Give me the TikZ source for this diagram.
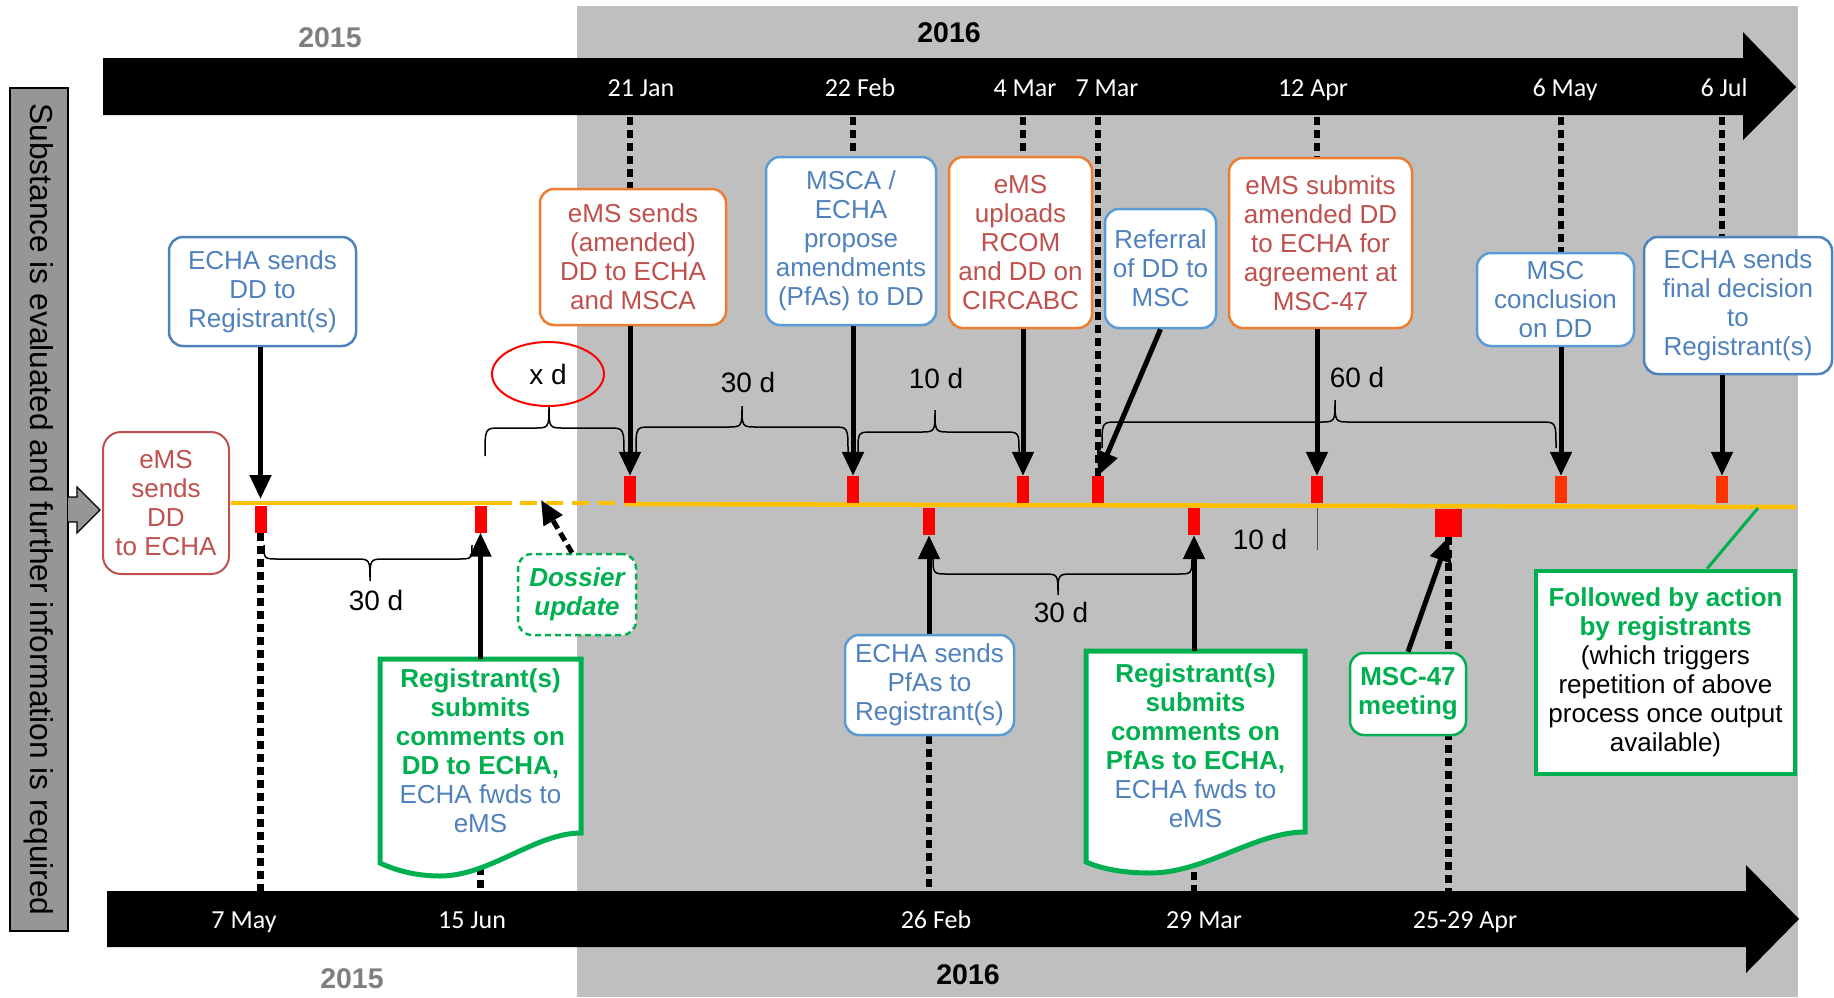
\documentclass[tikz,border=0pt]{standalone}
\usepackage{fontspec}
\setmainfont{Liberation Sans}
\newfontfamily\datefont{Carlito}
\usepackage{tikz}
\usetikzlibrary{shapes.geometric, arrows.meta, backgrounds}

\definecolor{txtred}{HTML}{C0504D}
\definecolor{bdorange}{HTML}{ED7D31}
\definecolor{txtblue}{HTML}{4F81BD}
\definecolor{bdblue}{HTML}{5B9BD5}
\definecolor{ggreen}{HTML}{00B050}
\definecolor{bggray}{HTML}{BFBFBF}
\definecolor{bargray}{HTML}{969696}
\definecolor{yeargray}{HTML}{7F7F7F}
\definecolor{tlorange}{HTML}{FFC000}
\definecolor{mkred}{HTML}{FF0000}
\definecolor{mkorange}{HTML}{FF3300}

\newcommand{\boxfont}{\fontsize{26}{29}\selectfont}
\newcommand{\greenbold}[1]{{\color{ggreen}\bfseries #1}}
\newcommand{\curly}[6]{\draw [bracket] (#1,#4) .. controls (#1,#5) .. (#1+15,#5) -- (#3-15,#5) .. controls (#3,#5) .. (#3,#6) .. controls (#3,#5) .. (#3+15,#5) -- (#2-15,#5) .. controls (#2,#5) .. (#2,#4);}

\tikzstyle{basebox} = [rectangle, rounded corners=14pt, fill=white, align=center, inner sep=3pt, font=\boxfont, line width=2.5pt]
\tikzstyle{bluebox} = [basebox, draw=bdblue, text=txtblue]
\tikzstyle{orangebox} = [basebox, draw=bdorange, text=txtred]
\tikzstyle{redbox} = [basebox, draw=txtred, text=txtred, line width=2pt, rounded corners=18pt]
\tikzstyle{greenbox} = [basebox, draw=ggreen, text=ggreen, font=\boxfont\bfseries]
\tikzstyle{dossierbox} = [greenbox, font=\boxfont\bfseries\itshape, dash pattern=on 6pt off 4pt]
\tikzstyle{notebox} = [rectangle, draw=ggreen, line width=4.5pt, fill=white, align=center, font=\boxfont, inner sep=3pt]
\tikzstyle{docshape} = [draw=ggreen, line width=5pt, fill=white]
\tikzstyle{doctext} = [align=center, font=\boxfont, text=txtblue]
\tikzstyle{arrow} = [line width=5pt, -{Triangle[length=24pt, width=21pt]}]
\tikzstyle{dotline} = [line width=6.5pt, dash pattern=on 8pt off 5pt]
\tikzstyle{daymark} = [rectangle, fill=mkred, minimum width=12pt, minimum height=27pt, inner sep=0pt]
\tikzstyle{tline} = [tlorange, line width=4.5pt]
\tikzstyle{datelbl} = [text=white, anchor=base, font=\datefont\fontsize{26}{28}\selectfont]
\tikzstyle{yearlbl} = [anchor=base, font=\fontsize{28.5}{30}\selectfont\bfseries]
\tikzstyle{daylbl} = [font=\fontsize{28}{30}\selectfont]
\tikzstyle{bracket} = [line width=1.5pt]

\begin{document}
\begin{tikzpicture}[x=1pt, y=-1pt]
\useasboundingbox (0,0) rectangle (1834,997);

\coordinate (topedge) at (0,117);
\coordinate (botedge) at (0,891);
\coordinate (linetop) at (0,499);
\coordinate (dossierpt) at (541,500);
\coordinate (tlend) at (1758,508);

\node (y15a) [yearlbl, text=yeargray] at (330,47) {2015};
\node (y16a) [yearlbl] at (949,42) {2016};
\node (y15b) [yearlbl, text=yeargray] at (352,988) {2015};
\node (y16b) [yearlbl] at (968,984) {2016};

\node (premise) [rectangle, draw, line width=1.2pt, fill=bargray, minimum width=843pt, minimum height=58pt, inner sep=0pt, rotate=-90, font=\fontsize{31.7}{34}\selectfont] at (39,509.5) {Substance is evaluated and further information is required};
\draw [fill=bargray, line width=1.2pt] (68,497) -- (77,497) -- (77,487) -- (100,510) -- (77,533) -- (77,522) -- (68,522);

\draw [tline] (231,503) -- (512,503);
\draw [tline, dash pattern=on 17pt off 9pt] (520,503) -- (625,503);
\draw [tline] (625,504) -- (1796,507);

\node (jan21) [daymark] at (630,489.5) {};
\node (feb22) [daymark] at (853,489.5) {};
\node (mar4) [daymark] at (1023,489.5) {};
\node (mar7) [daymark] at (1098,489.5) {};
\node (apr12) [daymark] at (1317,489.5) {};
\node (may6) [daymark, fill=mkorange] at (1561,489.5) {};
\node (jul6) [daymark, fill=mkorange] at (1722,489.5) {};
\node (may7) [daymark] at (260.5,519) {};
\node (jun15) [daymark] at (480.5,519) {};
\node (feb26) [daymark] at (929,521.5) {};
\node (mar29) [daymark] at (1194,521.5) {};
\node (apr25) [daymark, minimum width=27pt, minimum height=28pt] at (1448.5,523) {};

\curly{485}{624}{549}{456}{428}{405}
\curly{636}{848}{742}{452}{427}{406}
\curly{858}{1019}{935}{452}{432}{410}
\curly{1102}{1556}{1335}{448}{422}{400}
\curly{264}{472}{370}{545}{559}{581}
\curly{933}{1192}{1058}{556}{574}{595}

\node (xd) [ellipse, draw=red, line width=2pt, minimum width=112pt, minimum height=64pt, daylbl] at (548,374) {x d};
\node (d30a) [daylbl] at (748,382) {30 d};
\node (d10a) [daylbl] at (936,378) {10 d};
\node (d60) [daylbl] at (1357,377) {60 d};
\node (d30b) [daylbl] at (376,600) {30 d};
\node (d30c) [daylbl] at (1061,612) {30 d};
\node (d10b) [daylbl] at (1260,539) {10 d};
\draw [line width=1pt, black!70] ([yshift=-5pt]apr12.south) -- ++(0,42);

\node (ems1) [redbox, minimum width=126pt, minimum height=142pt] at (166,503) {eMS\\sends\\DD\\to ECHA};
\node (echa1) [bluebox, draw=txtblue, minimum width=187pt, minimum height=109pt] at (262.5,291.5) {ECHA sends\\DD to\\Registrant(s)};
\node (ems2) [orangebox, minimum width=186pt, minimum height=136pt] at (633,257) {eMS sends\\(amended)\\DD to ECHA\\and MSCA};
\node (msca) [bluebox, minimum width=170pt, minimum height=168pt] at (851,241) {MSCA /\\ECHA\\propose\\amendments\\(PfAs) to DD};
\node (ems3) [orangebox, minimum width=143pt, minimum height=171pt] at (1020.5,242.5) {eMS\\uploads\\RCOM\\and DD on\\CIRCABC};
\node (refer) [bluebox, minimum width=111pt, minimum height=119pt] at (1160.5,268.5) {Referral\\of DD to\\MSC};
\node (ems4) [orangebox, minimum width=183pt, minimum height=170pt] at (1320.5,243) {eMS submits\\amended DD\\to ECHA for\\agreement at\\MSC-47};
\node (concl) [bluebox, minimum width=157pt, minimum height=93pt] at (1555.5,299.5) {MSC\\conclusion\\on DD};
\node (final) [bluebox, draw=txtblue, minimum width=188pt, minimum height=137pt] at (1738,305.5) {ECHA sends\\final decision\\to\\Registrant(s)};
\node (pfas) [bluebox, minimum width=169pt, minimum height=100pt] at (929.5,685) {ECHA sends\\PfAs to\\Registrant(s)};
\node (meet) [greenbox, minimum width=116pt, minimum height=82pt] at (1408,694) {MSC-47\\meeting};
\node (dossier) [dossierbox, minimum width=118pt, minimum height=81pt] at (577,594.5) {Dossier\\update};
\node (follow) [notebox, minimum width=259pt, minimum height=203pt] at (1665.5,672.5) {\greenbold{Followed by action}\\ \greenbold{by registrants}\\(which triggers\\repetition of above\\process once output\\available)};

\draw [docshape] (380,659) -- (581,659) -- (581,833) .. controls (535,833) and (490,876) .. (440,876) .. controls (415,876) and (395,870) .. (380,863) -- cycle;
\node (reg1) [doctext, minimum width=201pt, minimum height=184pt] at (480.5,751) {\greenbold{Registrant(s)}\\ \greenbold{submits}\\ \greenbold{comments on}\\ \greenbold{DD to ECHA,}\\ECHA fwds to\\eMS};
\draw [docshape] (1086,651) -- (1305,651) -- (1305,832) .. controls (1255,832) and (1205,873) .. (1150,873) .. controls (1120,873) and (1100,868) .. (1086,862) -- cycle;
\node (reg2) [doctext, minimum width=219pt, minimum height=190pt] at (1195.5,746) {\greenbold{Registrant(s)}\\ \greenbold{submits}\\ \greenbold{comments on}\\ \greenbold{PfAs to ECHA,}\\ECHA fwds to\\eMS};

\draw [arrow] (echa1.south -| may7) -- (may7 |- linetop);
\draw [arrow] (ems2.south -| jan21) -- (jan21.north);
\draw [arrow] (msca.south -| feb22) -- (feb22.north);
\draw [arrow] (ems3.south -| mar4) -- (mar4.north);
\draw [arrow] (refer.south) -- (mar7.north);
\draw [arrow] (ems4.south -| apr12) -- (apr12.north);
\draw [arrow] (concl.south -| may6) -- (may6.north);
\draw [arrow] (final.south -| jul6) -- (jul6.north);
\draw [arrow] (reg1.north -| jun15) -- (jun15.south);
\draw [arrow] (pfas.north -| feb26) -- (feb26.south);
\draw [arrow] (reg2.north -| mar29) -- (mar29.south);
\draw [arrow] (meet.north) -- (apr25.south);
\draw [arrow, dash pattern=on 9pt off 5pt] ([xshift=-5pt]dossier.north) -- (dossierpt);
\draw [ggreen, line width=3pt] ([xshift=41.5pt]follow.north) -- (tlend);

\begin{pgfonlayer}{background}
\fill [bggray] (577,6) rectangle (1798,997);
\fill (103,58) -- (1743,58) -- (1743,32) -- (1796,87) -- (1743,140) -- (1743,115) -- (103,115) -- cycle;
\fill (107,891) -- (1746,891) -- (1746,865) -- (1799,919) -- (1746,973) -- (1746,947) -- (107,947) -- cycle;
\node (lbljan21) [datelbl] at (641,96) {21 Jan};
\node (lblfeb22) [datelbl] at (860,96) {22 Feb};
\node (lblmar4) [datelbl] at (1025,96) {4 Mar};
\node (lblmar7) [datelbl] at (1107,96) {7 Mar};
\node (lblapr12) [datelbl] at (1313,96) {12 Apr};
\node (lblmay6) [datelbl] at (1565,96) {6 May};
\node (lbljul6) [datelbl] at (1724,96) {6 Jul};
\node (lblmay7) [datelbl] at (244,928) {7 May};
\node (lbljun15) [datelbl] at (472,928) {15 Jun};
\node (lblfeb26) [datelbl] at (936,928) {26 Feb};
\node (lblmar29) [datelbl] at (1204,928) {29 Mar};
\node (lblapr25) [datelbl] at (1465,928) {25-29 Apr};
\draw [dotline] (jan21 |- topedge) -- (jan21 |- ems2.north);
\draw [dotline] (feb22 |- topedge) -- (feb22 |- msca.north);
\draw [dotline] (mar4 |- topedge) -- (mar4 |- ems3.north);
\draw [dotline] (mar7 |- topedge) -- (mar7.north);
\draw [dotline] (apr12 |- topedge) -- (apr12 |- ems4.north);
\draw [dotline] (may6 |- topedge) -- (may6 |- concl.north);
\draw [dotline] (jul6 |- topedge) -- (jul6 |- final.north);
\draw [dotline] (may7.south) -- (may7 |- botedge);
\draw [dotline] (jun15 |- reg1.north) -- (jun15 |- botedge);
\draw [dotline] (feb26 |- pfas.south) -- (feb26 |- botedge);
\draw [dotline] (mar29 |- reg2.north) -- (mar29 |- botedge);
\draw [dotline] (apr25.south) -- (apr25 |- botedge);
\end{pgfonlayer}

\end{tikzpicture}
\end{document}
